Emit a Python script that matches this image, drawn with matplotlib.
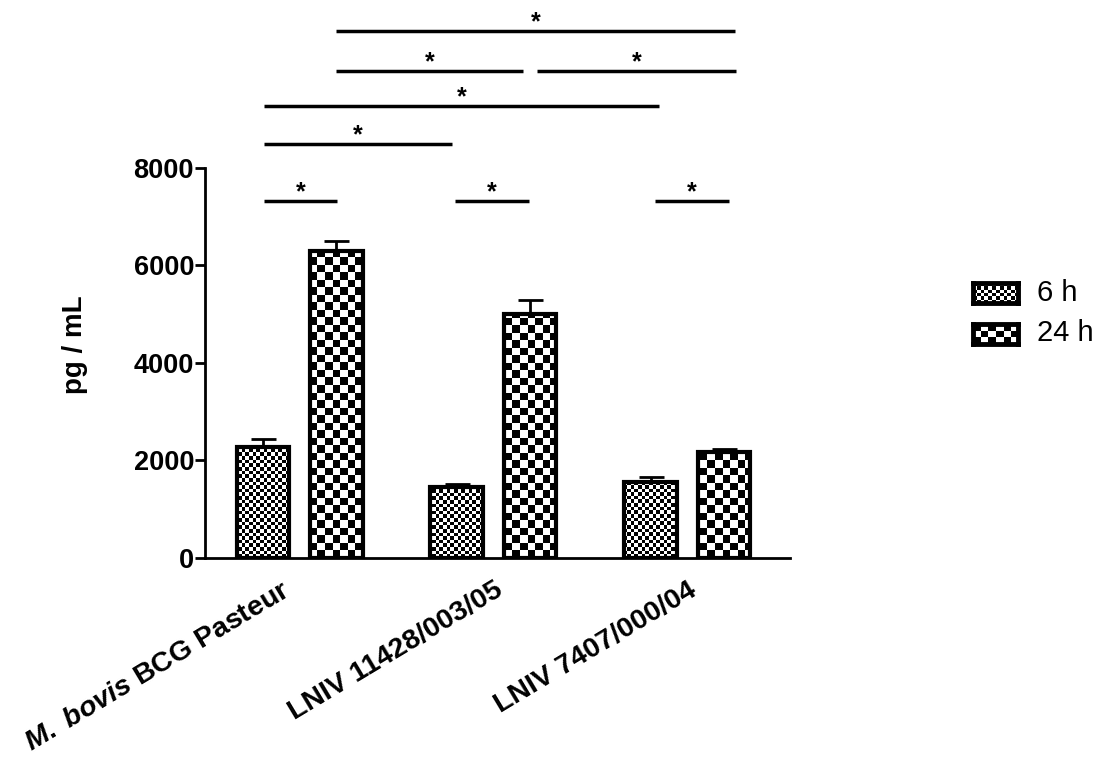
import numpy as np
import matplotlib
matplotlib.use('Agg')
import matplotlib.pyplot as plt
import matplotlib.transforms as mtransforms

plt.rcParams['font.family'] = ['Liberation Sans', 'DejaVu Sans']
plt.rcParams['mathtext.fontset'] = 'custom'
plt.rcParams['mathtext.it'] = 'Liberation Sans:italic:bold'
plt.rcParams['mathtext.rm'] = 'Liberation Sans:bold'

# data
groups = [r'$\it{M.}$ $\it{bovis}$ BCG Pasteur', 'LNIV 11428/003/05', 'LNIV 7407/000/04']
vals_6h = [2280, 1450, 1560]
err_6h = [170, 60, 110]
vals_24h = [6300, 5000, 2170]
err_24h = [210, 290, 70]

# significance brackets: (x start, x end, y)
brackets = [(-0.183, 0.193, 7320),
            (0.802, 1.183, 7320),
            (1.832, 2.214, 7320),
            (-0.183, 0.786, 8490),
            (-0.183, 1.853, 9270),
            (0.188, 1.152, 9990),
            (1.224, 2.250, 9990),
            (0.188, 2.245, 10810)]

fig = plt.figure(figsize=(11.03, 7.65), dpi=100)
ax = fig.add_axes([0.186, 0.2706, 0.530, 0.510])

x = np.arange(len(groups))
off = 0.19
w = 0.27
xlim = (-0.487, 2.528)
ylim = (0, 8000)


def checker(cell_px, w_px, h_px):
    nx = int(round(w_px / cell_px))
    ny = int(round(h_px / cell_px))
    return (np.indices((ny, nx)).sum(axis=0) % 2).astype(float)


def fill_pattern(bars, cell_px):
    img = checker(cell_px, 585, 390)
    for b in bars:
        im = ax.imshow(img, extent=[xlim[0], xlim[1], ylim[0], ylim[1]],
                       aspect='auto', interpolation='nearest', cmap='gray',
                       vmin=0, vmax=1, zorder=2)
        im.set_clip_path(b)


b6 = ax.bar(x - off, vals_6h, w, facecolor='none', edgecolor='black', linewidth=3, zorder=3)
b24 = ax.bar(x + off, vals_24h, w, facecolor='none', edgecolor='black', linewidth=3, zorder=3)
fill_pattern(b6, 3.6)
fill_pattern(b24, 7.5)

ax.errorbar(x - off, vals_6h, yerr=[np.zeros(3), err_6h], fmt='none', ecolor='black',
            elinewidth=2, capsize=9, capthick=2, zorder=1)
ax.errorbar(x + off, vals_24h, yerr=[np.zeros(3), err_24h], fmt='none', ecolor='black',
            elinewidth=2, capsize=9, capthick=2, zorder=1)

for x0, x1, y in brackets:
    ax.plot([x0, x1], [y, y], color='black', lw=2.5, clip_on=False, solid_capstyle='butt')
    ax.text((x0 + x1) / 2, y + 40, '*', ha='center', va='baseline', fontsize=18,
            fontweight='bold', clip_on=False)

ax.set_xlim(*xlim)
ax.set_ylim(*ylim)
ax.spines['top'].set_visible(False)
ax.spines['right'].set_visible(False)
ax.spines['left'].set_linewidth(2)
ax.spines['bottom'].set_linewidth(2)
ax.spines['left'].set_bounds(0, 8000)
ax.set_yticks([0, 2000, 4000, 6000, 8000])
ax.tick_params(axis='y', direction='out', length=7, width=2, labelsize=19.5, pad=1)
for t in ax.get_yticklabels():
    t.set_fontweight('bold')
ax.set_xticks(x)
ax.set_xticklabels(groups, rotation=31, ha='right', va='top', rotation_mode='anchor',
                   fontsize=20.5, fontweight='bold')
ax.tick_params(axis='x', length=0, pad=14)
# small horizontal nudges of the tick labels (pixels)
for lab, dx in zip(ax.get_xticklabels(), [-18, 0, 0]):
    lab.set_transform(lab.get_transform() + mtransforms.ScaledTranslation(dx / 100, 0, fig.dpi_scale_trans))

fig.text(0.068, 0.55, 'pg / mL', rotation=90, ha='center', va='center',
         fontsize=20, fontweight='bold')

# legend swatches
for (bottom, cell, label, ty) in [(0.604, 3.6, '6 h', 0.617), (0.550, 7.5, '24 h', 0.565)]:
    sw = fig.add_axes([0.882, bottom, 0.041, 0.026])
    img = checker(cell, 45, 20)
    sw.imshow(img, aspect='auto', interpolation='nearest', cmap='gray', vmin=0, vmax=1)
    sw.set_xticks([])
    sw.set_yticks([])
    for s in sw.spines.values():
        s.set_linewidth(3.5)
    fig.text(0.940, ty, label, ha='left', va='center', fontsize=21)

plt.savefig('out.png', dpi=100)
